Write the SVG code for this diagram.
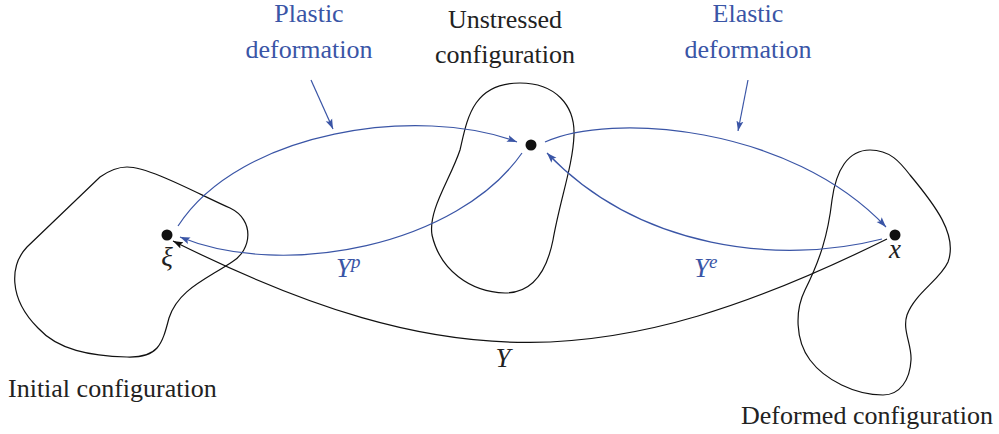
<svg xmlns="http://www.w3.org/2000/svg" width="999" height="434" viewBox="0 0 999 434">
<style>
text{font-family:'Times New Roman',serif}
.t{font-size:26px;fill:#222}
.b{fill:#3a55a6}
.m{font-style:italic;font-size:27px}
.blob{fill:none;stroke:#111;stroke-width:1.2}
.ca{fill:none;stroke:#3a55a6;stroke-width:1.2}
.ck{fill:none;stroke:#111;stroke-width:1.2}
.dot{fill:#111}
</style>
<defs>
<marker id="ab" markerWidth="11" markerHeight="8" refX="10" refY="4" orient="auto" markerUnits="userSpaceOnUse">
<path d="M0,0.5 L10,4 L0,7.5 L2,4 Z" fill="#3a55a6"/>
</marker>
<marker id="ak" markerWidth="11" markerHeight="8" refX="10" refY="4" orient="auto" markerUnits="userSpaceOnUse">
<path d="M0,0.5 L10,4 L0,7.5 L2,4 Z" fill="#111"/>
</marker>
</defs>
<rect width="999" height="434" fill="#fff"/>

<g id="initial">
<path class="blob" d="M127,167 C150,167 200,195 230,208 C255,220 252,250 232,262 C205,280 178,290 169,318 C162,345 158,358 127,357 C90,356 58,350 38,328 C8,298 10,265 27,247 L100,177 C110,170 118,167 127,167 Z"/>
<circle class="dot" cx="167" cy="235" r="5.5"/>
<text class="m" x="167" y="266" text-anchor="middle" fill="#222" font-family="Times New Roman, serif" style="font-family:'Times New Roman',serif">ξ</text>
<text class="t" x="8" y="397" font-family="Times New Roman, serif" style="font-family:'Times New Roman',serif">Initial configuration</text>
</g>

<g id="unstressed">
<path class="blob" d="M520,83 C555,83 575,105 574,135 C573,165 560,200 553,240 C546,275 530,293 505,293 C470,292 440,270 432,235 C428,210 450,180 460,150 C467,120 472,83 520,83 Z"/>
<circle class="dot" cx="531" cy="145" r="5.5"/>
<text class="t" x="505" y="28" text-anchor="middle" font-family="Times New Roman, serif" style="font-family:'Times New Roman',serif">Unstressed</text>
<text class="t" x="505" y="63" text-anchor="middle" font-family="Times New Roman, serif" style="font-family:'Times New Roman',serif">configuration</text>
</g>

<g id="deformed">
<path class="blob" d="M870,150 C890,150 900,162 910,175 C935,205 958,235 948,262 C940,280 915,293 907,315 C902,330 912,345 911,360 C910,380 900,395 883,395 C855,395 825,380 810,360 C795,340 795,310 805,290 C820,260 828,235 832,200 C836,170 848,150 870,150 Z"/>
<circle class="dot" cx="895" cy="235" r="5.5"/>
<text class="m" x="895" y="258" text-anchor="middle" fill="#222" font-family="Times New Roman, serif" style="font-family:'Times New Roman',serif">x</text>
<text class="t" x="741" y="424" font-family="Times New Roman, serif" style="font-family:'Times New Roman',serif">Deformed configuration</text>
</g>

<g id="plastic-label">
<text class="t b" x="309" y="22" text-anchor="middle" font-family="Times New Roman, serif" style="font-family:'Times New Roman',serif">Plastic</text>
<text class="t b" x="309" y="58" text-anchor="middle" font-family="Times New Roman, serif" style="font-family:'Times New Roman',serif">deformation</text>
</g>

<g id="elastic-label">
<text class="t b" x="748" y="22" text-anchor="middle" font-family="Times New Roman, serif" style="font-family:'Times New Roman',serif">Elastic</text>
<text class="t b" x="748" y="58" text-anchor="middle" font-family="Times New Roman, serif" style="font-family:'Times New Roman',serif">deformation</text>
</g>

<g id="connectors">
<path class="ca" d="M178,226 C240,130 420,105 517,142" marker-end="url(#ab)"/>
<path class="ca" d="M545,142 C610,112 790,125 886,227" marker-end="url(#ab)"/>
<path class="ca" d="M522,153 C458,245 285,280 180,237" marker-end="url(#ab)"/>
<path class="ca" d="M882,239 C780,265 640,250 547,153" marker-end="url(#ab)"/>
<path class="ck" d="M887,239 C612,375 448,378 173,241" marker-end="url(#ak)"/>
<path class="ca" d="M311,80 L333,129" marker-end="url(#ab)"/>
<path class="ca" d="M748,80 L738,131" marker-end="url(#ab)"/>
</g>

<g id="edge-labels">
<text class="m b" x="336" y="277" font-family="Times New Roman, serif" style="font-family:'Times New Roman',serif">Y<tspan font-size="19" dy="-9">p</tspan></text>
<text class="m b" x="694" y="277" font-family="Times New Roman, serif" style="font-family:'Times New Roman',serif">Y<tspan font-size="19" dy="-9">e</tspan></text>
<text class="m" x="503" y="367" text-anchor="middle" fill="#222" font-family="Times New Roman, serif" style="font-family:'Times New Roman',serif">Y</text>
</g>
</svg>
